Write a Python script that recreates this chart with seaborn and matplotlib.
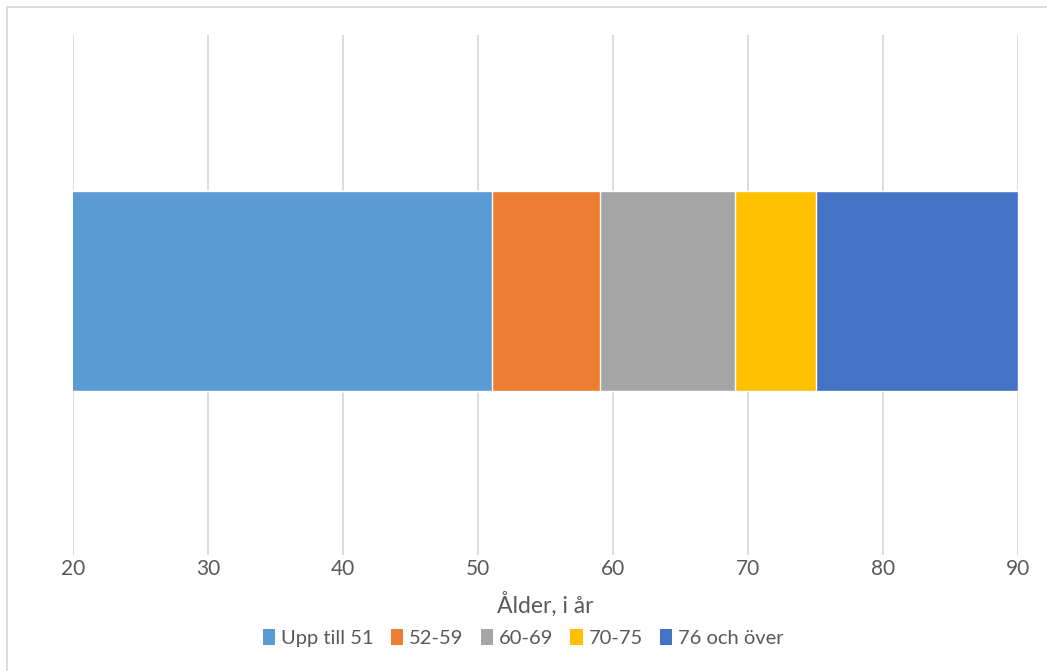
import matplotlib
matplotlib.use("Agg")
import matplotlib.pyplot as plt
from matplotlib.patches import Rectangle, Patch
import numpy as np
import pandas as pd
import seaborn as sns

# Age groups and the width (in years) of each stacked segment
groups = ["Upp till 51", "52-59", "60-69", "70-75", "76 och över"]
segment_years = [51, 8, 10, 6, 15]
colors = ["#5B9BD5", "#ED7D31", "#A5A5A5", "#FFC000", "#4472C4"]
x_ticks = [20, 30, 40, 50, 60, 70, 80, 90]
x_label = "Ålder, i år"

sns.set_theme(style="white")
plt.rcParams["font.family"] = ["Lato", "DejaVu Sans"]

fig = plt.figure(figsize=(10.47, 6.71), dpi=100)
fig.patch.set_facecolor("white")

# chart frame
fig.patches.append(Rectangle((7 / 1047, -0.1), 1.2, 1 - 7 / 671 + 0.1,
                             transform=fig.transFigure, fill=False,
                             edgecolor="#D9D9D9", linewidth=1.3))

ax = fig.add_axes([73 / 1047, 1 - 555 / 671, (1018 - 73) / 1047, (555 - 35) / 671])

# stacked bar: draw cumulative totals from the outermost inward
cum = np.cumsum(segment_years)
df = pd.DataFrame({"grp": groups, "end": cum, "color": colors, "row": [""] * len(groups)})
for i in reversed(range(len(groups))):
    sns.barplot(data=df.iloc[[i]], x="end", y="row", orient="h",
                color=colors[i], width=0.605, saturation=1, ax=ax, zorder=3)

ax.set_xlim(20, 90)
ax.set_ylim(0.800, -0.776)
ax.set_xticks(x_ticks)
ax.set_xticklabels([str(t) for t in x_ticks], fontsize=15, color="#595959")
ax.tick_params(axis="x", length=0, pad=3)
ax.set_yticks([])
ax.set_ylabel("")
ax.set_xlabel(x_label, fontsize=16.5, color="#595959", labelpad=9)
ax.grid(axis="x", color="#D9D9D9", linewidth=1.3, zorder=0)
ax.set_axisbelow(True)
for s in ax.spines.values():
    s.set_visible(False)

handles = [Patch(facecolor=c, edgecolor="none") for c in colors]
fig.legend(handles, groups, loc="center", bbox_to_anchor=(0.5, 1 - 638 / 671),
           ncol=5, frameon=False, fontsize=14.5, handlelength=0.6, handleheight=0.8,
           handletextpad=0.3, columnspacing=0.85, labelcolor="#595959")

fig.savefig("out.png", dpi=100, facecolor="white")
